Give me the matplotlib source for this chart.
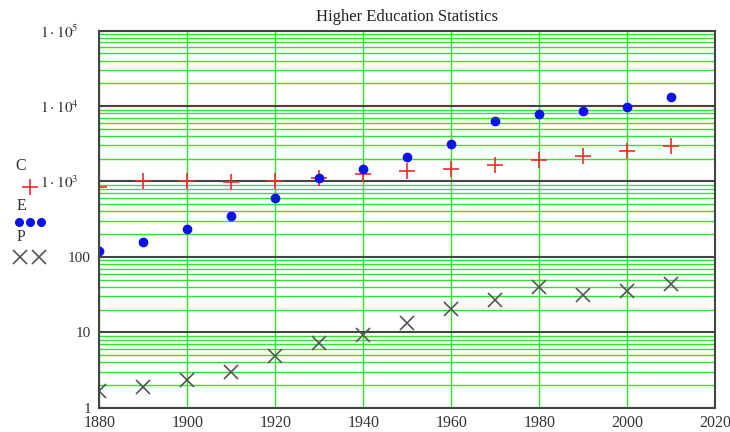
import numpy as np
import matplotlib.pyplot as plt
from matplotlib.lines import Line2D
from matplotlib.ticker import FixedLocator, LogLocator, NullFormatter

plt.rcParams["font.family"] = ["Liberation Serif", "DejaVu Serif"]
plt.rcParams["mathtext.fontset"] = "stix"

# ==========================================
# Data
# ==========================================

years = [1880, 1890, 1900, 1910, 1920, 1930, 1940,
         1950, 1960, 1970, 1980, 1990, 2000, 2010]

# C - colleges
colleges = [850, 1000, 1000, 980, 1000, 1120, 1260,
            1370, 1480, 1660, 1950, 2160, 2520, 2910]

# E - enrollment (thousands)
enrollment = [121, 157, 236, 346, 603, 1120, 1480,
              2090, 3100, 6300, 7800, 8540, 9640, 13060]

# P - PhDs (thousands)
phds = [1.64, 1.87, 2.33, 3.0, 4.8, 7.3, 9.2,
        13.1, 20.1, 26.5, 39.5, 31.3, 35.7, 43.7]

x_ticks = [1880, 1900, 1920, 1940, 1960, 1980, 2000, 2020]
y_ticks = [1, 10, 100, 1e3, 1e4, 1e5]
y_tick_labels = ["1", "10", "100",
                 r"$1\cdot10^{3}$    ", r"$1\cdot10^{4}$    ", r"$1\cdot10^{5}$    "]

series_names = ["C", "E", "P"]

# ==========================================
# Styles
# ==========================================

green = "#33e033"
dark = "#444444"
red = "#e8302a"
blue = "#0a14e6"
gray = "#555555"

# ==========================================
# Plot
# ==========================================

fig = plt.figure(figsize=(7.3, 4.32), dpi=100)
ax = fig.add_axes([0.136, 0.0563, 0.844, 0.8727])

ax.plot(years, colleges, linestyle="none", marker="+", markersize=12,
        markeredgewidth=1.2, color=red)
ax.plot(years, enrollment, linestyle="none", marker="o", markersize=6,
        color=blue)
ax.plot(years, phds, linestyle="none", marker="x", markersize=10,
        markeredgewidth=1.2, color=gray)

ax.set_yscale("log")
ax.set_xlim(1880, 2020)
ax.set_ylim(1, 1e5)

ax.xaxis.set_major_locator(FixedLocator(x_ticks))
ax.set_xticklabels([str(t) for t in x_ticks])
ax.yaxis.set_major_locator(FixedLocator(y_ticks))
ax.set_yticklabels(y_tick_labels)
ax.yaxis.set_minor_locator(LogLocator(base=10, subs=np.arange(2, 10)))
ax.yaxis.set_minor_formatter(NullFormatter())

ax.set_axisbelow(True)
ax.grid(which="major", axis="x", color=green, linewidth=1.0)
ax.grid(which="minor", axis="y", color=green, linewidth=1.0)
ax.grid(which="major", axis="y", color=dark, linewidth=1.5)

ax.tick_params(which="both", length=0, colors="#333333")
ax.tick_params(axis="y", pad=6, labelsize=11)
ax.tick_params(axis="x", pad=5, labelsize=11.5)

for s in ax.spines.values():
    s.set_color(dark)
    s.set_linewidth(1.5)

ax.set_title("Higher Education Statistics", fontsize=12, pad=7, color="#222222")

# ==========================================
# Mathcad-style legend on the left
# ==========================================

W, H = 730, 432


def fx(px):
    return px / W


def fy(py):
    return 1 - py / H


text_y = [166, 206, 237]
for name, ty in zip(series_names, text_y):
    fig.text(fx(21), fy(ty), name, fontsize=11.5, ha="center", va="center",
             color="#333333")

fig.add_artist(Line2D([fx(30)], [fy(186.5)], linestyle="none", marker="+",
                      markersize=12, markeredgewidth=1.2, color=red))
fig.add_artist(Line2D([fx(19), fx(30), fx(41)], [fy(222)] * 3, linestyle="none",
                      marker="o", markersize=5.5, color=blue))
fig.add_artist(Line2D([fx(20), fx(39)], [fy(257)] * 2, linestyle="none",
                      marker="x", markersize=10, markeredgewidth=1.2, color=gray))

plt.savefig("out.png", dpi=100)
